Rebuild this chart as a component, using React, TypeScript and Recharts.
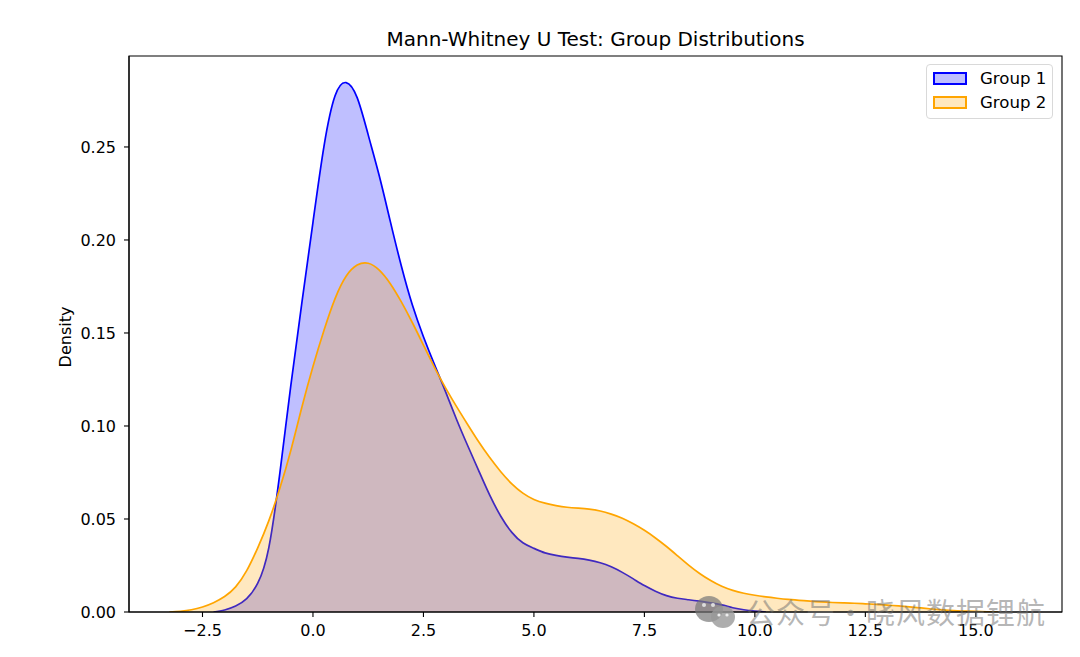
import React from "react";
import { Area, ComposedChart, ReferenceArea, XAxis, YAxis } from "recharts";

const xValues = [-3.25, -3, -2.75, -2.5, -2.25, -2, -1.75, -1.5, -1.25, -1, -0.75, -0.5, -0.25, 0, 0.25, 0.5, 0.75, 1, 1.25, 1.5, 1.75, 2, 2.25, 2.5, 2.75, 3, 3.25, 3.5, 3.75, 4, 4.25, 4.5, 4.75, 5, 5.25, 5.5, 5.75, 6, 6.25, 6.5, 6.75, 7, 7.25, 7.5, 7.75, 8, 8.25, 8.5, 8.75, 9, 9.25, 9.5, 9.75, 10, 10.25, 10.5, 10.75, 11, 11.25, 11.5, 11.75, 12, 12.25, 12.5, 12.75, 13, 13.25, 13.5, 13.75, 14, 14.25, 14.5, 14.75, 15, 15.25, 15.5];
const group1 = [null, null, null, null, 0, 0.0011, 0.0032, 0.0072, 0.0155, 0.0345, 0.0745, 0.122, 0.1665, 0.2095, 0.2505, 0.2775, 0.2846, 0.2765, 0.2565, 0.2345, 0.21, 0.186, 0.165, 0.148, 0.133, 0.1185, 0.1035, 0.0895, 0.076, 0.0628, 0.0515, 0.0428, 0.0372, 0.0342, 0.0318, 0.0304, 0.0295, 0.0288, 0.0279, 0.0265, 0.0243, 0.0213, 0.0178, 0.0142, 0.0112, 0.0088, 0.0074, 0.0066, 0.0058, 0.0049, 0.0038, 0.0023, 0.0012, 0.0005, 0, null, null, null, null, null, null, null, null, null, null, null, null, null, null, null, null, null, null, null, null, null];
const group2 = [0, 0.0004, 0.0012, 0.0027, 0.005, 0.0083, 0.0135, 0.0222, 0.0345, 0.049, 0.0665, 0.087, 0.1102, 0.132, 0.1515, 0.1685, 0.1805, 0.1865, 0.1875, 0.1838, 0.1765, 0.1667, 0.1555, 0.1435, 0.1315, 0.1205, 0.1104, 0.1008, 0.0915, 0.083, 0.0754, 0.0689, 0.0639, 0.0605, 0.0585, 0.0572, 0.0563, 0.0558, 0.0553, 0.0543, 0.0526, 0.0504, 0.0474, 0.0439, 0.0398, 0.0352, 0.0302, 0.0252, 0.0207, 0.0169, 0.0138, 0.0116, 0.0101, 0.009, 0.0081, 0.0074, 0.0068, 0.0063, 0.0058, 0.0054, 0.0051, 0.0049, 0.0047, 0.0044, 0.0041, 0.0037, 0.0033, 0.0028, 0.0022, 0.0016, 0.0011, 0.0007, 0.0005, 0.0003, 0.0001, 0];
const xTicks = [-2.5, 0, 2.5, 5, 7.5, 10, 12.5, 15];
const yTicks = [0, 0.05, 0.1, 0.15, 0.2, 0.25];

const chartData = xValues.map((x, i) => ({ x, group1: group1[i], group2: group2[i] }));
const font = "'DejaVu Sans', sans-serif";
const BLUE = "#0000ff";
const ORANGE = "#ffa500";

function LegendBox() {
  const row = (label: string, color: string, top: number) => (
    <div style={{ position: "absolute", left: 6, top }}>
      <div style={{ position: "absolute", left: 0, top: 0, width: 30, height: 9, border: `2px solid ${color}`, background: color === BLUE ? "#bfbfff" : "#ffe8bf" }} />
      <span style={{ position: "absolute", left: 47, top: -3, fontSize: 16.6, lineHeight: "19px", whiteSpace: "nowrap", color: "#000" }}>{label}</span>
    </div>
  );
  return (
    <div style={{ position: "absolute", left: 926, top: 64, width: 125, height: 53, background: "#fff", border: "1px solid #d9d9d9", borderRadius: 4, fontFamily: font }}>
      {row("Group 1", BLUE, 7)}
      {row("Group 2", ORANGE, 31)}
    </div>
  );
}

function Watermark() {
  return (
    <div style={{ position: "absolute", left: 694, top: 590, width: 370, height: 44, pointerEvents: "none" }}>
      <svg width={44} height={40} style={{ position: "absolute", left: 0, top: 5 }}>
        <ellipse cx={15} cy={14} rx={14} ry={13} fill="#777" fillOpacity={0.7} />
        <ellipse cx={29} cy={22} rx={12} ry={11} fill="#999" fillOpacity={0.8} />
        <circle cx={10} cy={10} r={2} fill="#ddd" />
        <circle cx={19} cy={10} r={2} fill="#ddd" />
        <circle cx={25} cy={20} r={1.6} fill="#eee" />
        <circle cx={33} cy={20} r={1.6} fill="#eee" />
      </svg>
      <span style={{ position: "absolute", left: 52, top: 0, fontFamily: "'Noto Sans CJK SC', sans-serif", fontSize: 29, lineHeight: "42px", letterSpacing: 1, color: "rgba(110,110,110,0.5)", whiteSpace: "nowrap" }}>
        公众号・晓风数据锂航
      </span>
    </div>
  );
}

export default function App() {
  return (
    <div style={{ position: "absolute", left: 0, top: 0, width: 1080, height: 657, background: "#fff", fontFamily: font, overflow: "hidden" }}>
      <ComposedChart width={1080} height={657} data={chartData} margin={{ top: 56, right: 18, bottom: 0, left: 69 }}>
        <XAxis
          dataKey="x"
          type="number"
          domain={[-4.163, 16.95]}
          ticks={xTicks}
          interval={0}
          allowDataOverflow
          height={45}
          tickSize={5}
          tickMargin={8}
          tickLine={{ stroke: "#000", strokeWidth: 1.1 }}
          axisLine={{ stroke: "#000", strokeWidth: 1.1 }}
          tick={{ fill: "#000", fontSize: 16, fontFamily: font }}
          tickFormatter={(v: number) => v.toFixed(1).replace("-", "\u2212")}
        />
        <YAxis
          type="number"
          domain={[0, 0.2989]}
          ticks={yTicks}
          interval={0}
          allowDataOverflow
          width={60}
          tickSize={5}
          tickMargin={8}
          tickLine={{ stroke: "#000", strokeWidth: 1.1 }}
          axisLine={{ stroke: "#000", strokeWidth: 1.1 }}
          tick={{ fill: "#000", fontSize: 16, fontFamily: font }}
          tickFormatter={(v: number) => v.toFixed(2)}
          label={{ value: "Density", angle: -90, position: "insideLeft", offset: -4, dy: 3, style: { fill: "#000", fontSize: 16, fontFamily: font, textAnchor: "middle" } }}
        />
        <Area dataKey="group1" name="Group 1" type="natural" stroke={BLUE} strokeWidth={1.7} fill={BLUE} fillOpacity={0.25} isAnimationActive={false} dot={false} activeDot={false} />
        <Area dataKey="group2" name="Group 2" type="natural" stroke={ORANGE} strokeWidth={1.7} fill={ORANGE} fillOpacity={0.25} isAnimationActive={false} dot={false} activeDot={false} />
        <ReferenceArea x1={-4.163} x2={16.95} y1={0} y2={0.2989} fill="none" stroke="#000" strokeWidth={1.1} ifOverflow="visible" />
      </ComposedChart>
      <div style={{ position: "absolute", left: 129, width: 933, top: 27, textAlign: "center", fontSize: 20, lineHeight: "24px", color: "#000" }}>
        Mann-Whitney U Test: Group Distributions
      </div>
      <LegendBox />
      <Watermark />
    </div>
  );
}
